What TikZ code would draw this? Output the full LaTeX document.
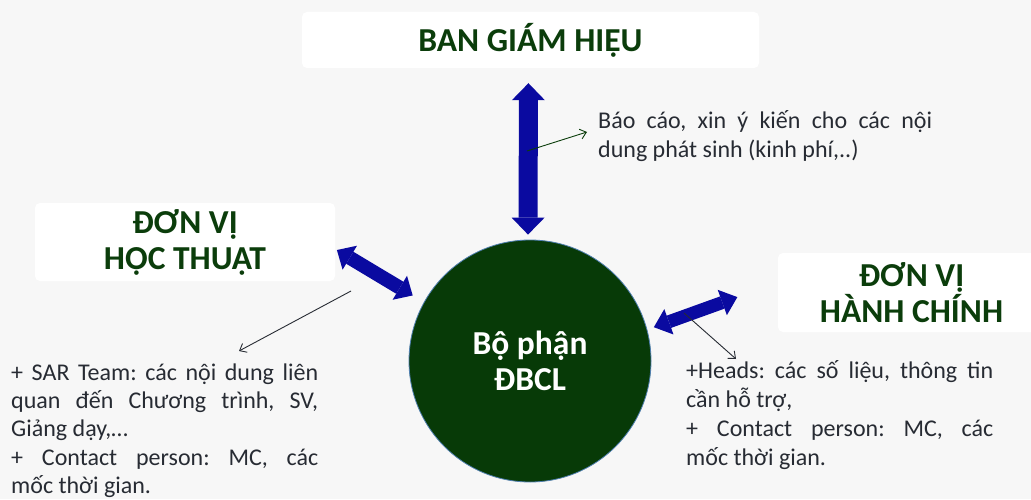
\documentclass[tikz,border=0pt]{standalone}
\usepackage{fontspec}
\setmainfont{Carlito}
\usetikzlibrary{arrows.meta}
\definecolor{bgc}{HTML}{F7F7F7}
\definecolor{dgreen}{HTML}{0B3D0B}
\definecolor{circfill}{HTML}{073A07}
\definecolor{arrblue}{HTML}{0A0AA0}
\definecolor{txt}{HTML}{272B33}
\definecolor{circline}{HTML}{4F7FAF}
\setlength{\parindent}{0pt}
\frenchspacing
\begin{document}
\begin{tikzpicture}[x=1pt,y=1pt,
 labelbox/.style={fill=white, rounded corners=5pt, inner sep=0pt, align=center, text=dgreen, font=\fontsize{33.5}{36}\selectfont\bfseries},
 bodytext/.style={anchor=north west, inner sep=0pt, align=justify, text=txt, font=\fontsize{24}{29}\selectfont\frenchspacing},
 bigarrow/.style args={#1/#2/#3}{draw=arrblue, line width=#1, arrows={Triangle[length=#3, width=#2, line width=0pt]-Triangle[length=#3, width=#2, line width=0pt]}},
 thinarrow/.style={line width=0.9pt, -{Straight Barb[length=6pt, width=10pt]}}
]
\fill[bgc] (0,0) rectangle (1031,499);
\useasboundingbox (0,0) rectangle (1031,499);
\clip (0,0) rectangle (1031,499);

\node[labelbox, minimum width=457pt, minimum height=56pt] (bgh) at (530.5,459) {BAN GIÁM HIỆU};
\node[labelbox, minimum width=300pt, minimum height=78pt] (hocthuat) at (185,257) {ĐƠN VỊ\\HỌC THUẬT};
\node[labelbox, minimum width=267pt, minimum height=79pt] (hanhchinh) at (911.5,206.5) {ĐƠN VỊ\\HÀNH CHÍNH};
\node[circle, fill=circfill, draw=circline, line width=0.8pt, minimum size=242pt, inner sep=0pt, text=white, align=center, font=\fontsize{33.5}{36}\selectfont\bfseries] (dbcl) at (530,138) {Bộ phận\\ĐBCL};

\node[bodytext, text width=334pt] (bc) at (598,395) {\rule{0pt}{24pt}Báo cáo, xin ý kiến cho các nội\linebreak dung phát sinh (kinh phí,..)};
\node[bodytext, text width=307pt, font=\fontsize{24}{28.3}\selectfont\frenchspacing] (ht) at (11,143) {\rule{0pt}{24pt}+ SAR Team: các nội dung liên\linebreak quan đến Chương trình, SV,\linebreak Giảng dạy,…\par + Contact person: MC, các\linebreak mốc thời gian.};
\node[bodytext, text width=307pt] (hc) at (686,145) {\rule{0pt}{24pt}+Heads: các số liệu, thông tin\linebreak cần hỗ trợ,\par + Contact person: MC, các\linebreak mốc thời gian.};

\draw[bigarrow=19pt/33pt/17pt, shorten <=15pt, shorten >=5pt] ([xshift=-2pt]bgh.south) -- ([xshift=-2pt]dbcl.north);
\draw[bigarrow=14pt/28pt/15pt, shorten <=2pt, shorten >=13pt] ([yshift=-7pt]hocthuat.east) -- (dbcl.151);
\draw[bigarrow=13pt/27pt/16pt, shorten <=7pt, shorten >=43pt] (dbcl.15) -- ([yshift=10pt]hanhchinh.west);

\coordinate (a1) at (527,348);
\coordinate (a1e) at (587,367);
\coordinate (a2) at (351,208);
\coordinate (a2e) at (239,148);
\coordinate (a3) at (684,186);
\coordinate (a3e) at (736,140);
\draw[thinarrow, draw=dgreen] (a1) -- (a1e);
\draw[thinarrow, draw=txt] (a2) -- (a2e);
\draw[thinarrow, draw=txt] (a3) -- (a3e);
\end{tikzpicture}
\end{document}
